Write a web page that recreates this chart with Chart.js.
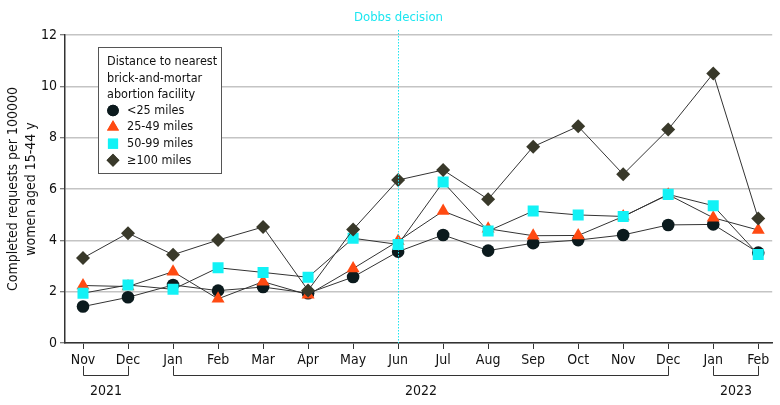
<!DOCTYPE html>
<html>
<head>
<meta charset="utf-8">
<script src="https://cdn.jsdelivr.net/npm/chart.js"></script>
<style>
  html, body { margin: 0; padding: 0; background: #fff; }
  #wrap { width: 780px; height: 405px; }
</style>
</head>
<body>
<div id="wrap"><canvas id="chart" width="780" height="405"></canvas></div>
<script>
const months = ["Nov", "Dec", "Jan", "Feb", "Mar", "Apr", "May", "Jun", "Jul", "Aug", "Sep", "Oct", "Nov", "Dec", "Jan", "Feb"];
const yearGroups = [
  { label: "2021", from: 0, to: 1 },
  { label: "2022", from: 2, to: 13 },
  { label: "2023", from: 14, to: 15 }
];
const dobbsIndex = 7;

const under25 = [1.42, 1.78, 2.26, 2.04, 2.18, 1.94, 2.57, 3.56, 4.21, 3.6, 3.89, 4.01, 4.21, 4.6, 4.62, 3.52];
const miles25to49 = [2.24, 2.2, 2.78, 1.72, 2.39, 1.88, 2.9, 3.97, 5.14, 4.45, 4.18, 4.19, 4.93, 5.78, 4.88, 4.4];
const miles50to99 = [1.94, 2.26, 2.09, 2.93, 2.75, 2.56, 4.08, 3.84, 6.27, 4.36, 5.14, 4.99, 4.93, 5.79, 5.35, 3.45];
const over100 = [3.31, 4.28, 3.44, 4.01, 4.52, 2.05, 4.42, 6.35, 6.74, 5.6, 7.65, 8.44, 6.57, 8.32, 10.5, 4.85];

const yTicks = [0, 2, 4, 6, 8, 10, 12];

const FONT = "'Liberation Sans Narrow', 'DejaVu Sans Condensed', sans-serif";
const CYAN = "#1de6f0";

const series = [
  { label: "<25 miles", data: under25, color: "#0b1a1d", style: "circle", radius: 6.3, order: 3 },
  { label: "25-49 miles", data: miles25to49, color: "#ff4a12", style: "triangle", radius: 7.5, order: 2 },
  { label: "50-99 miles", data: miles50to99, color: "#12f2f6", style: "rect", radius: 7.8, order: 1 },
  { label: "\u2265100 miles", data: over100, color: "#39392a", style: "rectRot", radius: 7, order: 0 }
];

const extras = {
  id: "extras",
  afterDraw(chart) {
    const ctx = chart.ctx;
    const x = chart.scales.x;
    const area = chart.chartArea;
    ctx.save();

    // Dobbs line + label
    const dx = Math.round(x.getPixelForValue(dobbsIndex)) + 0.5;
    ctx.strokeStyle = CYAN;
    ctx.lineWidth = 1;
    ctx.setLineDash([1.5, 1.5]);
    ctx.beginPath();
    ctx.moveTo(dx, 30);
    ctx.lineTo(dx, area.bottom);
    ctx.stroke();
    ctx.setLineDash([]);
    ctx.fillStyle = CYAN;
    ctx.font = "13px " + FONT;
    ctx.textAlign = "center";
    ctx.textBaseline = "middle";
    ctx.fillText("Dobbs decision", dx, 18);

    // y axis title
    ctx.fillStyle = "#111";
    ctx.font = "14px " + FONT;
    ctx.save();
    ctx.translate(22, (area.top + area.bottom) / 2);
    ctx.rotate(-Math.PI / 2);
    ctx.fillText("Completed requests per 100000", 0, -9);
    ctx.fillText("women aged 15-44 y", 0, 9);
    ctx.restore();

    // year brackets
    ctx.strokeStyle = "#333";
    ctx.lineWidth = 1;
    yearGroups.forEach(g => {
      const x0 = Math.round(x.getPixelForValue(g.from)) + 0.5;
      const x1 = Math.round(x.getPixelForValue(g.to)) + 0.5;
      ctx.beginPath();
      ctx.moveTo(x0, 366);
      ctx.lineTo(x0, 375.5);
      ctx.lineTo(x1, 375.5);
      ctx.lineTo(x1, 366);
      ctx.stroke();
      ctx.fillText(g.label, (x0 + x1) / 2, 391);
    });

    // legend box
    const bx = 98.5, by = 47.5, bw = 123, bh = 126;
    ctx.fillStyle = "#fff";
    ctx.fillRect(bx, by, bw, bh);
    ctx.strokeStyle = "#555";
    ctx.strokeRect(bx, by, bw, bh);
    ctx.fillStyle = "#111";
    ctx.font = "12.5px " + FONT;
    ctx.textAlign = "left";
    ["Distance to nearest", "brick-and-mortar", "abortion facility"].forEach((t, i) => {
      ctx.fillText(t, 107, 62 + i * 16.3);
    });
    series.forEach((s, i) => {
      const ly = 110.5 + i * 16.6;
      ctx.fillStyle = s.color;
      ctx.beginPath();
      Chart.helpers.drawPoint(ctx, { pointStyle: s.style, radius: s.radius * 0.92, borderWidth: 0, rotation: 0 }, 113, ly);
      ctx.fill();
      ctx.fillStyle = "#111";
      ctx.fillText(s.label, 127, ly);
    });
    ctx.restore();
  }
};

new Chart(document.getElementById("chart"), {
  type: "line",
  data: {
    labels: months.map((m, i) => i),
    datasets: series.map(s => ({
      label: s.label,
      data: s.data,
      borderColor: "#333",
      borderWidth: 1,
      pointStyle: s.style,
      pointRadius: s.radius,
      pointBackgroundColor: s.color,
      pointBorderWidth: 0,
      pointBorderColor: s.color,
      tension: 0,
      order: s.order
    }))
  },
  options: {
    responsive: false,
    animation: false,
    events: [],
    layout: { padding: { top: 35, right: 4, left: 0, bottom: 0 } },
    plugins: { legend: { display: false }, tooltip: { enabled: false } },
    scales: {
      x: {
        type: "linear",
        min: -0.4,
        max: 15.31,
        afterBuildTicks: s => { s.ticks = months.map((m, i) => ({ value: i })); },
        afterFit: s => { s.height = 62; },
        ticks: {
          autoSkip: false,
          maxRotation: 0,
          padding: 3,
          color: "#111",
          font: { family: FONT, size: 14 },
          callback: v => months[v]
        },
        grid: { drawOnChartArea: false, drawTicks: true, tickLength: 6, color: "#333", lineWidth: 1 },
        border: { display: true, color: "#333", width: 1.5 }
      },
      y: {
        min: 0,
        max: 12,
        afterBuildTicks: s => { s.ticks = yTicks.map(v => ({ value: v })); },
        afterFit: s => { s.width = 65; },
        ticks: {
          padding: 3,
          color: "#111",
          font: { family: FONT, size: 14 },
          callback: v => String(v)
        },
        grid: { color: "#c4c4c4", lineWidth: 1.5, tickLength: 5, tickColor: "#555", tickWidth: 1 },
        border: { display: true, color: "#333", width: 1.5 }
      }
    }
  },
  plugins: [extras]
});
</script>
</body>
</html>
